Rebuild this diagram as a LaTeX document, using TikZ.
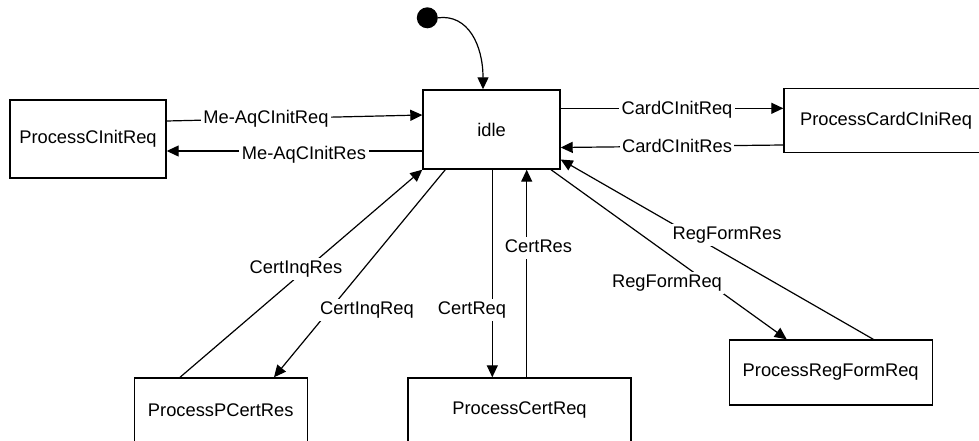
\documentclass[tikz,border=0pt]{standalone}
\usepackage{fontspec}
\setmainfont{Liberation Sans}
\usetikzlibrary{arrows.meta,calc}
\begin{document}
\begin{tikzpicture}[x=1pt,y=-1pt,
  state/.style={draw,line width=1.4pt,inner sep=0pt,font=\fontsize{18.3}{22}\selectfont},
  lbl/.style={fill=white,inner sep=2.5pt,font=\fontsize{18.3}{22}\selectfont,text height=13pt,text depth=3.5pt},
  conn/.style={line width=1.2pt,-{Triangle[length=12pt,width=11pt]}},
  plain/.style={line width=1.2pt}]
\useasboundingbox (0,0) rectangle (979,441);
% states
\node[state,minimum width=156pt,minimum height=78pt] (pci) at (88,139) {ProcessCInitReq};
\node[state,minimum width=137pt,minimum height=79pt] (idle) at (491.5,129.5) {idle};
\node[state,minimum width=204pt,minimum height=64.5pt] (pcard) at (886,120.5) {ProcessCardCIniReq};
\node[state,minimum width=203pt,minimum height=65pt] (pregf) at (830.7,372.5) {ProcessRegFormReq};
\node[state,minimum width=173pt,minimum height=65pt] (ppcert) at (220.7,410.5) {ProcessPCertRes};
\node[state,minimum width=223pt,minimum height=65pt] (pcert) at (519.5,410.5) {ProcessCertReq};
\node[circle,fill=black,inner sep=0pt,minimum size=21pt] (start) at (427.3,17.8) {};
% initial transition
\coordinate (itop) at ($(idle.north)+(-8.5,0)$);
\draw[conn] (start.east) .. controls (468,14) and (483,45) .. (itop);
% connectors
\draw[conn] ($(pci.east)+(0,-18)$) -- ($(idle.west)+(0,-14.5)$);
\draw[conn] ($(idle.west)+(0,21.5)$) -- ($(pci.east)+(0,12)$);
\draw[conn] ($(idle.east)+(0,-21.2)$) -- ($(pcard.west)+(0,-12.2)$);
\draw[conn] ($(pcard.west)+(0,24.5)$) -- ($(idle.east)+(0,18)$);
\draw[conn] ($(ppcert.north)+(-40.7,0)$) -- (idle.south west);
\draw[conn] ($(idle.south west)+(23,0)$) -- ($(ppcert.north)+(53.3,0)$);
\draw[conn] ($(idle.south)+(0.8,0)$) -- ($(pcert.north)+(-27.2,0)$);
\draw[conn] ($(pcert.north)+(7.2,0)$) -- ($(idle.south)+(35.2,0)$);
\draw[conn] ($(idle.south)+(59.5,0)$) -- ($(pregf.north)+(-44,0)$);
\draw[conn] ($(pregf.north)+(42.6,0)$) -- ($(idle.east)+(0,30)$);
% labels
\node[lbl] (l1) at (266,119) {Me-AqCInitReq};
\node[lbl] (l2) at (304,155) {Me-AqCInitRes};
\node[lbl] (l3) at (677,110) {CardCInitReq};
\node[lbl] (l4) at (677,148) {CardCInitRes};
\node[lbl] (l5) at (296,269) {CertInqRes};
\node[lbl] (l6) at (367,310) {CertInqReq};
\node[lbl] (l7) at (472,310) {CertReq};
\node[lbl] (l8) at (538.5,248) {CertRes};
\node[lbl] (l9) at (667,283) {RegFormReq};
\node[lbl] (l10) at (727,235) {RegFormRes};
\end{tikzpicture}
\end{document}
